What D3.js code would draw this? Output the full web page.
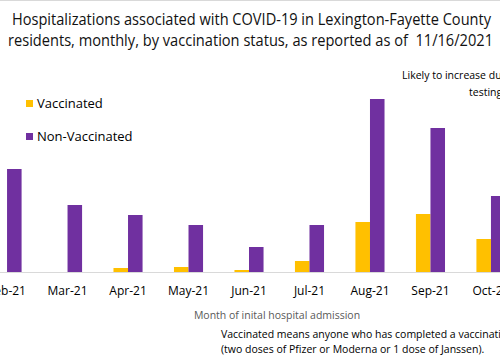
<!DOCTYPE html>
<html>
<head>
<meta charset="utf-8">
<script src="https://cdn.jsdelivr.net/npm/d3@7"></script>
<style>
  body { margin: 0; background: #fff; }
  svg { display: block; font-family: "Open Sans", "Noto Sans", sans-serif; }
</style>
</head>
<body>
<svg width="500" height="361"></svg>
<script>
// Data (only Feb–Oct visible)
const months = ["Feb-21", "Mar-21", "Apr-21", "May-21", "Jun-21", "Jul-21", "Aug-21", "Sep-21", "Oct-21"];
const vaccinated = [0, 0, 4, 5, 2, 11, 50, 58, 33];
const nonVaccinated = [103, 67, 57, 47, 25, 47, 173, 144, 76];
const seriesNames = ["Vaccinated", "Non-Vaccinated"];
const colors = ["#FFC000", "#7030A0"];

const svg = d3.select("svg"),
  width = +svg.attr("width"),
  height = +svg.attr("height");

const baseline = 272;

// scales
const x0 = d3.scaleBand()
    .domain(months)
    .range([-23.2, 521.2])
    .padding(0);

const x1 = d3.scaleBand()
    .domain(seriesNames)
    .range([0, x0.bandwidth()])
    .paddingInner(0)
    .paddingOuter(1.08);

const y = d3.scaleLinear()
    .domain([0, 173])
    .range([baseline, 99]);

const color = d3.scaleOrdinal().domain(seriesNames).range(colors);

// top border
svg.append("line")
    .attr("x1", 0).attr("x2", width)
    .attr("y1", 0.5).attr("y2", 0.5)
    .style("stroke", "#d9d9d9");

// title
const title = ["Hospitalizations associated with COVID-19 in Lexington-Fayette County",
               "residents, monthly, by vaccination status, as reported as of  11/16/2021"];
svg.append("g").selectAll("text")
    .data(title)
    .enter().append("text")
    .attr("x", (d, i) => i ? 8 : 12)
    .attr("y", (d, i) => i ? 46 : 25)
    .attr("textLength", (d, i) => i ? 485 : 479)
    .attr("lengthAdjust", "spacingAndGlyphs")
    .style("white-space", "pre")
    .style("font-size", "16px")
    .style("fill", "#111")
    .text(d => d);

// bars
const rows = months.map((m, i) => ({ month: m, values: [vaccinated[i], nonVaccinated[i]] }));

svg.append("g")
    .selectAll("g")
    .data(rows)
    .enter().append("g")
    .attr("transform", d => `translate(${x0(d.month)},0)`)
    .selectAll("rect")
    .data(d => d.values.map((v, j) => ({ key: seriesNames[j], value: v })))
    .enter().append("rect")
    .attr("x", d => x1(d.key))
    .attr("width", x1.bandwidth())
    .attr("y", d => y(d.value))
    .attr("height", d => baseline - y(d.value))
    .style("fill", d => color(d.key));

// x axis
const xAxis = svg.append("g")
    .attr("transform", `translate(0,${baseline})`)
    .call(d3.axisBottom(x0).tickSize(0).tickPadding(14));
xAxis.select(".domain")
    .attr("d", `M0,0.5H${width}`)
    .style("stroke", "#d9d9d9");
xAxis.selectAll("text")
    .style("font-family", "'Open Sans', sans-serif")
    .style("font-size", "12px")
    .style("fill", "#000");

svg.append("text")
    .attr("x", 277)
    .attr("y", 319)
    .attr("text-anchor", "middle")
    .style("font-size", "10.5px")
    .style("fill", "#595959")
    .text("Month of inital hospital admission");

// legend
const legend = svg.append("g")
    .selectAll("g")
    .data(seriesNames)
    .enter().append("g")
    .attr("transform", (d, i) => `translate(26,${100 + i * 33})`);
legend.append("rect")
    .attr("width", 7).attr("height", 7)
    .style("fill", d => color(d));
legend.append("text")
    .attr("x", 11)
    .attr("y", 8)
    .style("font-size", "13px")
    .style("fill", "#000")
    .text(d => d);

// annotation (cut off at the right edge)
svg.append("text")
    .attr("x", 402).attr("y", 79)
    .style("font-size", "10.5px")
    .text("Likely to increase due to delayed reporting");
svg.append("text")
    .attr("x", 469).attr("y", 96)
    .style("font-size", "10.5px")
    .text("testing, hospitalization");

// footnote
const notes = ["Vaccinated means anyone who has completed a vaccination series",
               "(two doses of Pfizer or Moderna or 1 dose of Janssen)."];
svg.append("g").selectAll("text")
    .data(notes)
    .enter().append("text")
    .attr("x", 221)
    .attr("y", (d, i) => 338 + i * 15)
    .style("font-size", "10.5px")
    .style("fill", "#000")
    .text(d => d);
</script>
</body>
</html>
